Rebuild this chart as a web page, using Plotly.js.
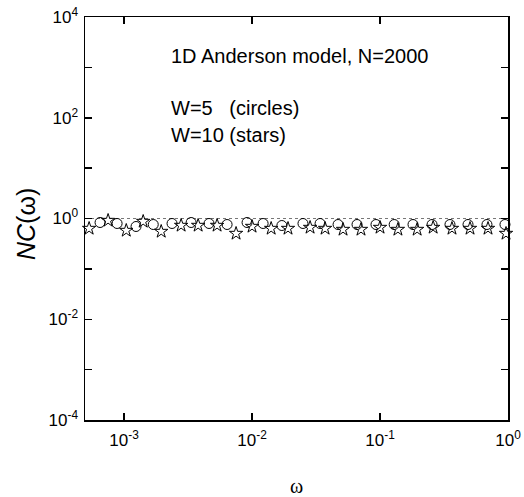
<!DOCTYPE html>
<html>
<head>
<meta charset="utf-8">
<script src="https://cdn.plot.ly/plotly-3.0.1.min.js"></script>
<style>html,body{margin:0;padding:0;background:#fff;}#plot{width:524px;height:497px;}</style>
</head>
<body>
<div id="plot"></div>
<script>
// W=5 (circles)
const omegaCircles = [6.49e-4, 8.82e-4, 1.24e-3, 1.69e-3, 2.37e-3, 3.34e-3, 4.61e-3, 6.38e-3, 9.14e-3, 1.22e-2, 1.71e-2, 2.50e-2, 3.40e-2, 4.70e-2, 6.61e-2, 9.30e-2, 0.129, 0.181, 0.255, 0.352, 0.487, 0.685, 0.947];
const ncCircles = [0.833, 0.796, 0.694, 0.760, 0.796, 0.833, 0.796, 0.760, 0.833, 0.796, 0.726, 0.796, 0.796, 0.760, 0.760, 0.760, 0.760, 0.760, 0.760, 0.760, 0.760, 0.760, 0.760];
// W=10 (stars)
const omegaStars = [5.33e-4, 7.50e-4, 1.04e-3, 1.41e-3, 1.95e-3, 2.79e-3, 3.79e-3, 5.33e-3, 7.50e-3, 1.0e-2, 1.41e-2, 1.91e-2, 2.84e-2, 3.72e-2, 5.14e-2, 7.10e-2, 0.100, 0.138, 0.195, 0.260, 0.365, 0.505, 0.698, 0.965];
const ncStars = [0.633, 0.913, 0.578, 0.872, 0.552, 0.727, 0.727, 0.727, 0.504, 0.694, 0.633, 0.633, 0.663, 0.633, 0.605, 0.605, 0.663, 0.605, 0.605, 0.663, 0.633, 0.633, 0.633, 0.504];

const xTickVals = [1e-3, 1e-2, 1e-1, 1];
const xTickText = ['10<sup>-3</sup>', '10<sup>-2</sup>', '10<sup>-1</sup>', '10<sup>0</sup>'];
const yTickVals = [1e-4, 1e-3, 1e-2, 1e-1, 1, 10, 100, 1000, 10000];
const yTickText = ['10<sup>-4</sup>', '', '10<sup>-2</sup>', '', '10<sup>0</sup>', '', '10<sup>2</sup>', '', '10<sup>4</sup>'];
const referenceLevel = 1;

const fontFam = '"Liberation Sans", Arial, sans-serif';
const plotL = 85, plotR = 508, plotT = 17, plotB = 420;
const px = (x) => (x - plotL) / (plotR - plotL);
const py = (y) => 1 - (y - plotT) / (plotB - plotT);

const traces = [
  {
    x: omegaCircles, y: ncCircles, type: 'scatter', mode: 'markers', name: 'W=5',
    marker: {symbol: 'circle-open', size: 10, color: '#000', line: {width: 1, color: '#000'}},
    cliponaxis: false
  },
  {
    x: omegaStars, y: ncStars, type: 'scatter', mode: 'markers', name: 'W=10',
    marker: {symbol: 'star-open', size: 10, color: '#000', line: {width: 1, color: '#000'}},
    cliponaxis: false
  }
];

const layout = {
  width: 524, height: 497,
  margin: {l: plotL, r: 524 - plotR, t: plotT, b: 497 - plotB},
  paper_bgcolor: '#fff', plot_bgcolor: '#fff',
  showlegend: false,
  font: {family: fontFam, color: '#000', size: 16},
  xaxis: {
    type: 'log', range: [Math.log10(4.95e-4), 0],
    tickvals: xTickVals, ticktext: xTickText,
    ticks: 'inside', ticklen: 7, tickwidth: 1.5, tickcolor: '#000',
    showline: true, linewidth: 1.5, linecolor: '#000', mirror: 'ticks',
    showgrid: false, zeroline: false,
    ticklabelstandoff: 4,
    tickfont: {size: 17, family: fontFam},
    title: {text: 'ω', font: {size: 20, family: '"Liberation Serif", "Times New Roman", serif'}, standoff: 30}
  },
  yaxis: {
    type: 'log', range: [-4, 4],
    tickvals: yTickVals, ticktext: yTickText,
    ticks: 'inside', ticklen: 7, tickwidth: 1.5, tickcolor: '#000',
    showline: true, linewidth: 1.5, linecolor: '#000', mirror: 'ticks',
    showgrid: false, zeroline: false,
    ticklabelstandoff: 2,
    tickfont: {size: 17, family: fontFam}
  },
  shapes: [
    {type: 'line', xref: 'paper', x0: 0, x1: 1, yref: 'y', y0: referenceLevel, y1: referenceLevel,
     line: {color: '#777', width: 1, dash: 'dot'}, layer: 'below'}
  ],
  annotations: [
    {text: '<i>NC</i>(ω)', xref: 'paper', yref: 'paper', x: px(26), y: py(224),
     xanchor: 'center', yanchor: 'middle', textangle: -90, showarrow: false, font: {size: 25, family: fontFam}},
    {text: '1D Anderson model, N=2000', xref: 'paper', yref: 'paper', x: px(169), y: py(56),
     xanchor: 'left', yanchor: 'middle', showarrow: false, font: {size: 20, family: fontFam}},
    {text: 'W=5   (circles)', xref: 'paper', yref: 'paper', x: px(169), y: py(108),
     xanchor: 'left', yanchor: 'middle', showarrow: false, font: {size: 20, family: fontFam}},
    {text: 'W=10 (stars)', xref: 'paper', yref: 'paper', x: px(169), y: py(135),
     xanchor: 'left', yanchor: 'middle', showarrow: false, font: {size: 20, family: fontFam}}
  ]
};

Plotly.newPlot('plot', traces, layout, {staticPlot: true, displayModeBar: false});
</script>
</body>
</html>
